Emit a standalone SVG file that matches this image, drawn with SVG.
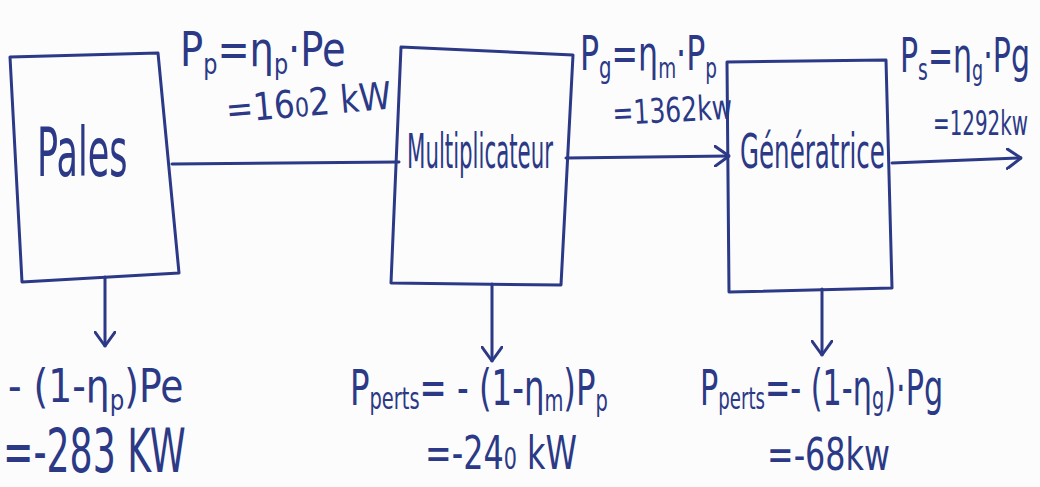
<svg xmlns="http://www.w3.org/2000/svg" width="1040" height="487" viewBox="0 0 1040 487">
<style>
.ink{fill:none;stroke:#2b3986;stroke-width:3;stroke-linecap:round;stroke-linejoin:round}
.hw{font-family:"DejaVu Sans","Liberation Sans",sans-serif;fill:#2b3986}
</style>
<defs>
<marker id="arr" viewBox="0 0 16 22" refX="15" refY="11" markerWidth="16" markerHeight="22" markerUnits="userSpaceOnUse" orient="auto">
<path d="M1,1 L15,11 L1,21" fill="none" stroke="#2b3986" stroke-width="3" stroke-linecap="round" stroke-linejoin="round"/>
</marker>
</defs>
<rect width="1040" height="487" fill="#fcfcfc"/>

<g id="connectors">
<path class="ink" d="M172,164 L399,162"/>
<path class="ink" d="M566,158 L729,156" marker-end="url(#arr)"/>
<path class="ink" d="M892,163 L1021,158" marker-end="url(#arr)"/>
<path class="ink" d="M105,277 L105,346" marker-end="url(#arr)"/>
<path class="ink" d="M492,284 L492,361" marker-end="url(#arr)"/>
<path class="ink" d="M822,289 L822,355" marker-end="url(#arr)"/>
</g>

<g id="pales">
<path class="ink" d="M10,57 L158,53 L179,273 L22,282 Z"/>
<text class="hw" font-size="68" transform="translate(37,176) scale(0.515,1)">Pales</text>
</g>

<g id="multiplicateur">
<path class="ink" d="M401,47 L573,55 L561,285 L391,283 Z"/>
<text class="hw" font-size="48" transform="translate(407,168) scale(0.444,1)">Multiplicateur</text>
</g>

<g id="generatrice">
<path class="ink" d="M727,62 L886,60 L892,288 L729,292 Z"/>
<text class="hw" font-size="48" transform="translate(740,168) scale(0.511,1)">Génératrice</text>
</g>

<g id="labels">
<text class="hw" font-size="48" transform="translate(180,66) scale(0.8,1)">P<tspan font-size="28" dy="8">p</tspan><tspan dy="-8">=η</tspan><tspan font-size="28" dy="8">p</tspan><tspan dy="-8">·Pe</tspan></text>
<text class="hw" font-size="38" transform="translate(227,123) rotate(-5) scale(0.862,1)">=16<tspan font-size="26">0</tspan>2 kW</text>

<text class="hw" font-size="48" transform="translate(580,70) scale(0.659,1)">P<tspan font-size="30" dy="8">g</tspan><tspan dy="-8">=η</tspan><tspan font-size="28" dy="8">m</tspan><tspan dy="-8">·P</tspan><tspan font-size="28" dy="8">p</tspan></text>
<text class="hw" font-size="34" transform="translate(613,125) rotate(-3) scale(0.738,1)">=1362kw</text>

<text class="hw" font-size="48" transform="translate(900,72) scale(0.626,1)">P<tspan font-size="30" dy="8">s</tspan><tspan dy="-8">=η</tspan><tspan font-size="28" dy="8">g</tspan><tspan dy="-8">·Pg</tspan></text>
<text class="hw" font-size="34" transform="translate(933,135) scale(0.585,1)">=1292kw</text>

<text class="hw" font-size="46" transform="translate(8,402) scale(0.819,1)">- (1-η<tspan font-size="28" dy="8">p</tspan><tspan dy="-8">)Pe</tspan></text>
<text class="hw" font-size="60" transform="translate(3,472) scale(0.605,1)">=-283 KW</text>

<text class="hw" font-size="50" transform="translate(350,405) scale(0.648,1)">P<tspan font-size="30" dy="4">perts</tspan><tspan dy="-4">= - (1-η</tspan><tspan font-size="30" dy="6">m</tspan><tspan dy="-6">)P</tspan><tspan font-size="30" dy="6">p</tspan></text>
<text class="hw" font-size="46" transform="translate(425,469) scale(0.692,1)">=-24<tspan font-size="30">0</tspan> kW</text>

<text class="hw" font-size="50" transform="translate(700,405) scale(0.605,1)">P<tspan font-size="30" dy="4">perts</tspan><tspan dy="-4">=- (1-η</tspan><tspan font-size="32" dy="4">g</tspan><tspan dy="-4">)·Pg</tspan></text>
<text class="hw" font-size="44" transform="translate(767,470) scale(0.723,1)">=-68kw</text>
</g>
</svg>
